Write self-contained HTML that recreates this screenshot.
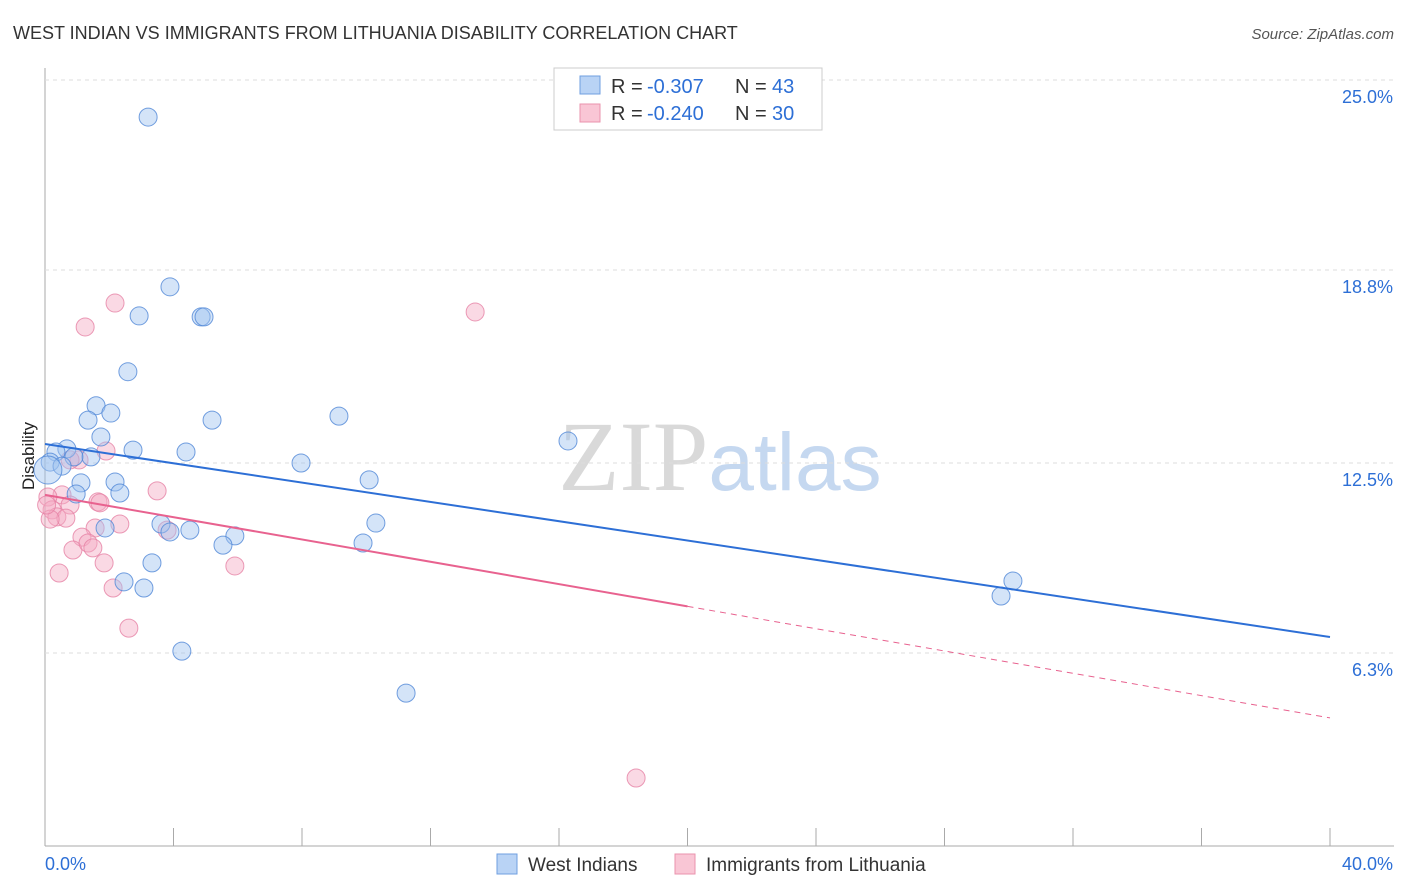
<!DOCTYPE html>
<html><head><meta charset="utf-8">
<style>
body{margin:0;background:#fff;font-family:"Liberation Sans",sans-serif;}
svg{display:block}
</style></head><body>
<svg id="chart" width="1406" height="892" xmlns="http://www.w3.org/2000/svg" font-family="Liberation Sans, sans-serif">
<text x="13" y="39" font-size="18" fill="#333">WEST INDIAN VS IMMIGRANTS FROM LITHUANIA DISABILITY CORRELATION CHART</text>
<text x="1394" y="39" font-size="15" fill="#555" text-anchor="end" font-style="italic">Source: ZipAtlas.com</text>
<text transform="translate(34,456) rotate(-90)" font-size="17" fill="#222" text-anchor="middle">Disability</text>
<text x="720" y="490" font-size="100" text-anchor="middle"><tspan fill="#d9d9d9" font-family="Liberation Serif, serif">ZIP</tspan><tspan fill="#c5d8f0" font-size="82">atlas</tspan></text>
<g id="grid"></g>
<g id="marks"></g>
<g>
<rect x="554" y="68" width="268" height="62" fill="#fff" stroke="#ccc"/>
<rect x="580" y="76" width="20" height="18" fill="#b9d3f5" stroke="#6f9fe0"/>
<text x="611" y="93" font-size="20" fill="#333">R =</text>
<text x="647" y="93" font-size="20" fill="#2d6fd6">-0.307</text>
<text x="735" y="93" font-size="20" fill="#333">N =</text>
<text x="772" y="93" font-size="20" fill="#2d6fd6">43</text>
<rect x="580" y="104" width="20" height="18" fill="#f9c6d5" stroke="#ea93ad"/>
<text x="611" y="120" font-size="20" fill="#333">R =</text>
<text x="647" y="120" font-size="20" fill="#2d6fd6">-0.240</text>
<text x="735" y="120" font-size="20" fill="#333">N =</text>
<text x="772" y="120" font-size="20" fill="#2d6fd6">30</text>
</g>
<g>
<rect x="497" y="854" width="20" height="20" fill="#b9d3f5" stroke="#6f9fe0"/>
<text x="528" y="871" font-size="19" fill="#333">West Indians</text>
<rect x="675" y="854" width="20" height="20" fill="#f9c6d5" stroke="#ea93ad"/>
<text x="706" y="871" font-size="19" fill="#333">Immigrants from Lithuania</text>
</g>
</svg>
<script>
const blueX=[3.21,3.89,2.93,4.86,4.95,2.58,1.59,2.05,1.34,5.20,9.15,16.28,1.74,0.68,2.74,4.39,1.43,0.90,0.34,0.16,0.53,7.97,1.12,2.18,10.09,0.97,2.33,0.09,3.61,1.87,4.51,10.30,5.91,5.54,9.90,3.33,2.46,3.08,30.13,29.76,4.26,11.24,3.89];
const blueY=[23.79,18.25,17.30,17.27,17.27,15.48,14.37,14.13,13.90,13.90,14.03,13.22,13.35,12.96,12.92,12.86,12.70,12.70,12.86,12.53,12.40,12.50,11.85,11.88,11.95,11.49,11.52,12.27,10.51,10.38,10.31,10.54,10.12,9.82,9.89,9.24,8.62,8.42,8.65,8.16,6.36,4.99,10.25];
const pinkX=[2.18,13.39,1.25,1.90,1.06,3.49,0.53,0.09,1.65,0.78,0.22,0.37,0.65,0.16,2.33,1.56,3.80,1.15,0.87,1.34,1.49,1.84,5.91,0.44,2.12,2.61,18.40,1.71,0.78,0.05];
const pinkY=[17.72,17.43,16.94,12.89,12.60,11.59,11.46,11.39,11.23,11.13,10.97,10.74,10.70,10.67,10.51,10.38,10.31,10.08,9.66,9.89,9.73,9.24,9.14,8.91,8.42,7.11,2.22,11.20,12.60,11.13];
const blueTrend=[13.12,6.82];
const pinkTrend=[11.46,4.18];
const yTicks=[25.0,18.8,12.5,6.3];
const yTickLabels=["25.0%","18.8%","12.5%","6.3%"];
const ns="http://www.w3.org/2000/svg";
const X=v=>45+v/40*1285;
const Y=v=>846-v/25*766;
function mk(t,a,p){const e=document.createElementNS(ns,t);for(const k in a)e.setAttribute(k,a[k]);p.appendChild(e);return e;}
const g=document.getElementById('grid'),m=document.getElementById('marks');
let ax=mk('line',{x1:45,y1:68,x2:45,y2:846,stroke:'#aaa'},g);


let bx=mk('line',{x1:45,y1:846,x2:1394,y2:846,stroke:'#aaa'},g);


for(let i=0;i<=10;i++){let t=mk('line',{x1:X(i*4),y1:828,x2:X(i*4),y2:846,stroke:'#aaa'},g);

}
yTicks.forEach((v,i)=>{let l=mk('line',{x1:45,y1:Y(v),x2:1394,y2:Y(v),stroke:'#ddd','stroke-dasharray':'4,4'},g);


let t=mk('text',{x:1393,y:Y(v)+23,'font-size':18,fill:'#2d6fd6','text-anchor':'end'},g);t.textContent=yTickLabels[i];

});
let x0=mk('text',{x:45,y:870,'font-size':18,fill:'#2d6fd6'},g);x0.textContent='0.0%';


let x1=mk('text',{x:1393,y:870,'font-size':18,fill:'#2d6fd6','text-anchor':'end'},g);x1.textContent='40.0%';


pinkX.forEach((v,i)=>{let c=mk('circle',{cx:X(v),cy:Y(pinkY[i]),r:9,fill:'rgba(245,170,195,0.45)',stroke:'rgba(230,130,165,0.8)','stroke-width':1},m);

});
blueX.forEach((v,i)=>{let c=mk('circle',{cx:X(v),cy:Y(blueY[i]),r:i==27?14:9,fill:'rgba(160,195,240,0.45)',stroke:'rgba(80,135,215,0.8)','stroke-width':1},m);

});
let bl=mk('line',{x1:X(0),y1:Y(blueTrend[0]),x2:X(40),y2:Y(blueTrend[1]),stroke:'#2d6fd6','stroke-width':2},m);


const pAt=x=>pinkTrend[0]+(pinkTrend[1]-pinkTrend[0])*x/40;
let pl=mk('line',{x1:X(0),y1:Y(pAt(0)),x2:X(20),y2:Y(pAt(20)),stroke:'#e8628f','stroke-width':2},m);


let pd=mk('line',{x1:X(20),y1:Y(pAt(20)),x2:X(40),y2:Y(pAt(40)),stroke:'#e8628f','stroke-width':1,'stroke-dasharray':'6,5'},m);


</script>
</body></html>
